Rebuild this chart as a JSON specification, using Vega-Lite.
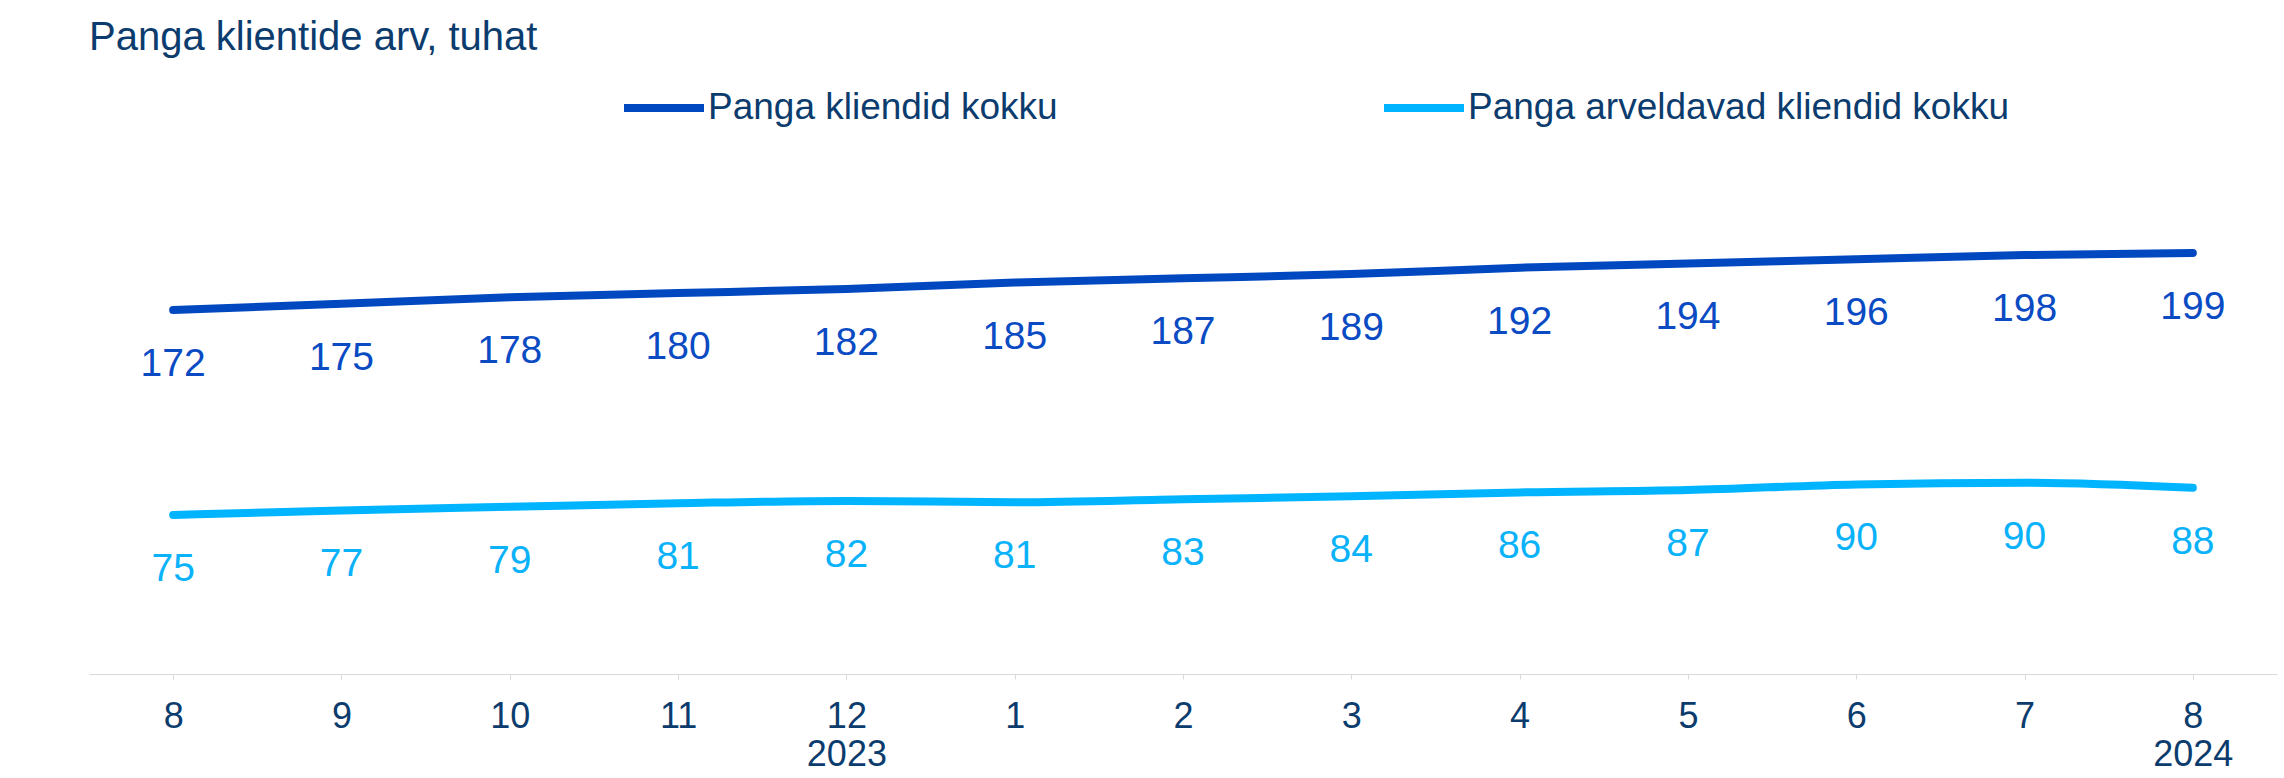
{
  "$schema": "https://vega.github.io/schema/vega-lite/v6.json",
  "width": 2188,
  "height": 529,
  "autosize": {"type": "none"},
  "padding": {"left": 89, "top": 145, "right": 7, "bottom": 104},
  "background": "white",
  "config": {"view": {"stroke": null}, "font": "Liberation Sans"},
  "title": {
    "text": "Panga klientide arv, tuhat",
    "anchor": "start",
    "fontSize": 40,
    "fontWeight": "normal",
    "color": "#0c3c6e",
    "offset": 6
  },
  "data": {
    "values": [
      {"period": "2023-08", "series": "Panga kliendid kokku", "value": 172},
      {"period": "2023-09", "series": "Panga kliendid kokku", "value": 175},
      {"period": "2023-10", "series": "Panga kliendid kokku", "value": 178},
      {"period": "2023-11", "series": "Panga kliendid kokku", "value": 180},
      {"period": "2023-12", "series": "Panga kliendid kokku", "value": 182},
      {"period": "2024-01", "series": "Panga kliendid kokku", "value": 185},
      {"period": "2024-02", "series": "Panga kliendid kokku", "value": 187},
      {"period": "2024-03", "series": "Panga kliendid kokku", "value": 189},
      {"period": "2024-04", "series": "Panga kliendid kokku", "value": 192},
      {"period": "2024-05", "series": "Panga kliendid kokku", "value": 194},
      {"period": "2024-06", "series": "Panga kliendid kokku", "value": 196},
      {"period": "2024-07", "series": "Panga kliendid kokku", "value": 198},
      {"period": "2024-08", "series": "Panga kliendid kokku", "value": 199},
      {"period": "2023-08", "series": "Panga arveldavad kliendid kokku", "value": 75.2},
      {"period": "2023-09", "series": "Panga arveldavad kliendid kokku", "value": 77.3},
      {"period": "2023-10", "series": "Panga arveldavad kliendid kokku", "value": 79.0},
      {"period": "2023-11", "series": "Panga arveldavad kliendid kokku", "value": 80.7},
      {"period": "2023-12", "series": "Panga arveldavad kliendid kokku", "value": 81.8},
      {"period": "2024-01", "series": "Panga arveldavad kliendid kokku", "value": 81.2},
      {"period": "2024-02", "series": "Panga arveldavad kliendid kokku", "value": 82.6},
      {"period": "2024-03", "series": "Panga arveldavad kliendid kokku", "value": 84.0},
      {"period": "2024-04", "series": "Panga arveldavad kliendid kokku", "value": 85.8},
      {"period": "2024-05", "series": "Panga arveldavad kliendid kokku", "value": 86.9},
      {"period": "2024-06", "series": "Panga arveldavad kliendid kokku", "value": 89.6},
      {"period": "2024-07", "series": "Panga arveldavad kliendid kokku", "value": 90.4},
      {"period": "2024-08", "series": "Panga arveldavad kliendid kokku", "value": 88.0}
    ]
  },
  "layer": [
    {
      "mark": {"type": "line", "strokeWidth": 8, "strokeCap": "round", "interpolate": "monotone"},
      "encoding": {
        "x": {
          "field": "period",
          "type": "ordinal",
          "axis": {
            "title": null,
            "labelAngle": 0,
            "domainColor": "#d9d9d9",
            "tickColor": "#d9d9d9",
            "labelFontSize": 36,
            "labelColor": "#0c3c6e",
            "labelPadding": 20,
            "labelOverlap": false,
            "labelExpr": "datum.value == '2023-12' ? ['12', '2023'] : datum.value == '2024-08' ? ['8', '2024'] : toString(toNumber(slice(datum.value, 5)))"
          }
        },
        "y": {
          "field": "value",
          "type": "quantitative",
          "scale": {"domain": [0, 250], "nice": false},
          "axis": null
        },
        "color": {
          "field": "series",
          "type": "nominal",
          "scale": {
            "domain": ["Panga kliendid kokku", "Panga arveldavad kliendid kokku"],
            "range": ["#0048c0", "#00b4ff"]
          },
          "legend": {
            "orient": "none",
            "legendX": 531,
            "legendY": -81,
            "direction": "horizontal",
            "title": null,
            "symbolType": "stroke",
            "symbolStrokeWidth": 8,
            "symbolSize": 6400,
            "labelFontSize": 37,
            "labelColor": "#0c3c6e",
            "labelOffset": 0,
            "labelLimit": 1000,
            "columnPadding": 310
          }
        }
      }
    },
    {
      "mark": {"type": "text", "dy": 66, "baseline": "alphabetic", "fontSize": 39},
      "encoding": {
        "x": {"field": "period", "type": "ordinal"},
        "y": {"field": "value", "type": "quantitative"},
        "text": {"field": "value", "type": "quantitative", "format": ".0f"},
        "color": {
          "condition": {"test": "datum.series === 'Panga kliendid kokku'", "value": "#0a4bc4"},
          "value": "#0ab2fa"
        }
      }
    }
  ]
}
